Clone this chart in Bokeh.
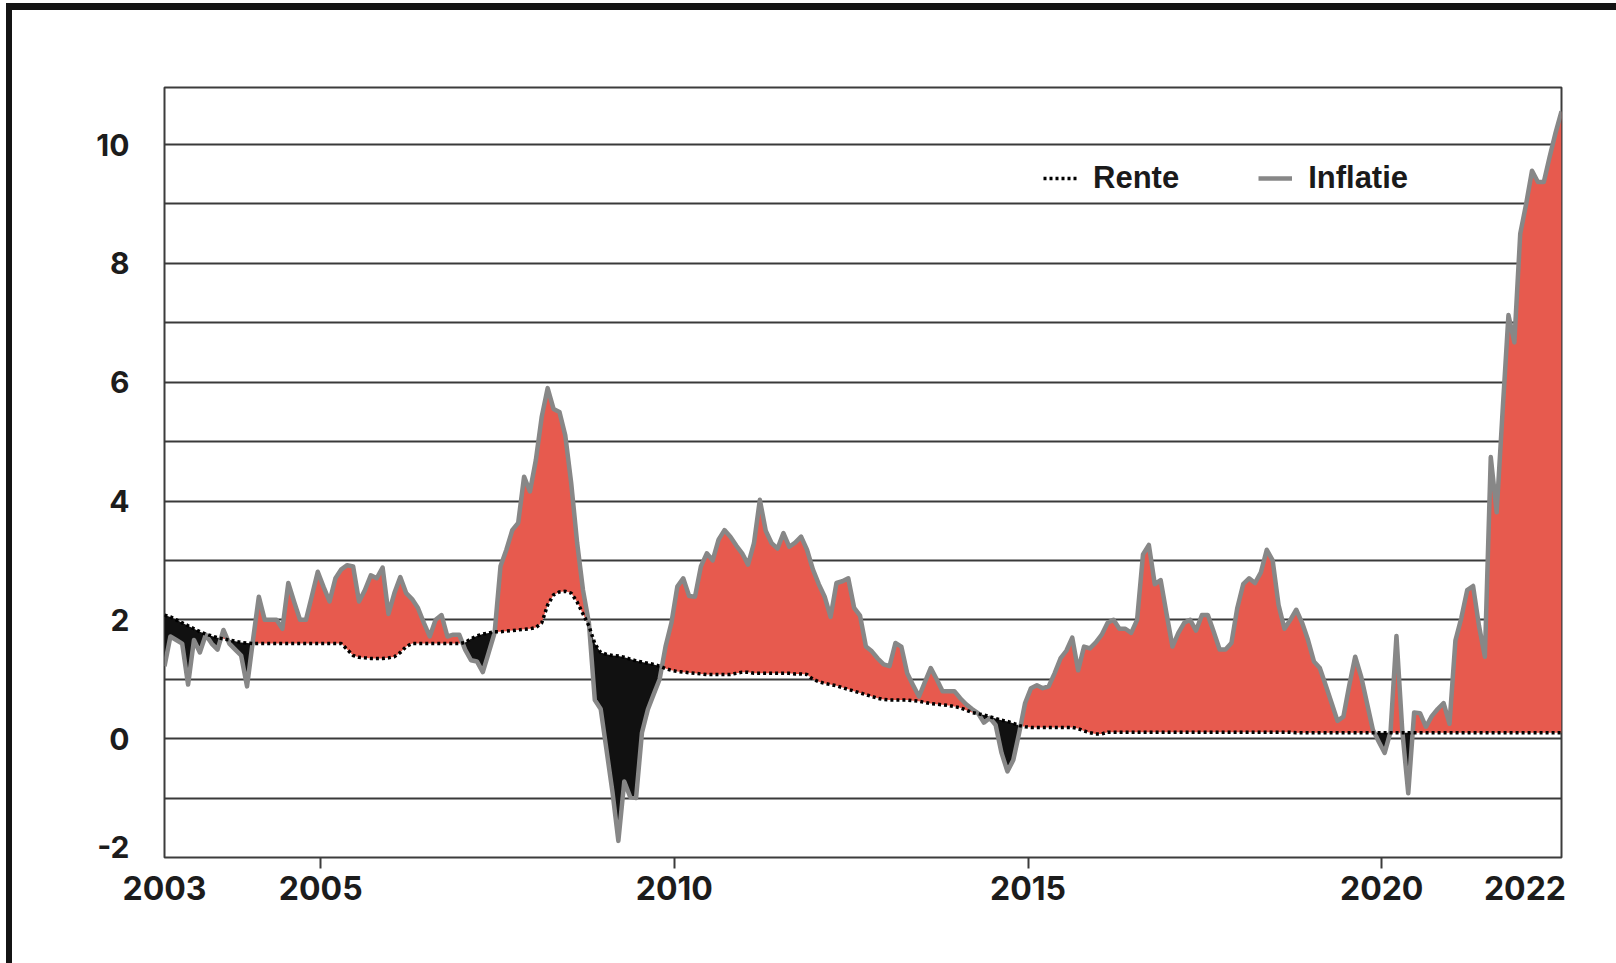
import numpy as np
from bokeh.plotting import figure
from bokeh.models import FixedTicker, Legend, LegendItem, Range1d
from bokeh.embed import file_html
from bokeh.resources import INLINE

# Monthly values, Jan 2003 .. Oct 2022 (month index 0..237)
inflatie = [
    1.22, 1.72, 1.66, 1.60, 0.91, 1.66, 1.45, 1.75, 1.60, 1.50,
    1.83, 1.60, 1.50, 1.40, 0.88, 1.65, 2.39, 2.00, 2.00, 2.00,
    1.85, 2.62, 2.30, 2.00, 2.00, 2.40, 2.81, 2.55, 2.31, 2.70,
    2.85, 2.92, 2.90, 2.31, 2.50, 2.75, 2.70, 2.88, 2.10, 2.45,
    2.72, 2.45, 2.35, 2.20, 1.95, 1.72, 2.00, 2.08, 1.72, 1.75,
    1.75, 1.50, 1.32, 1.30, 1.12, 1.45, 1.78, 2.90, 3.18, 3.51,
    3.63, 4.41, 4.16, 4.69, 5.42, 5.90, 5.55, 5.50, 5.10, 4.30,
    3.30, 2.50, 1.95, 0.65, 0.50, -0.20, -0.90, -1.72, -0.72, -0.98,
    -1.00, 0.10, 0.49, 0.75, 1.00, 1.55, 1.95, 2.56, 2.70, 2.40,
    2.39, 2.90, 3.12, 3.00, 3.35, 3.51, 3.40, 3.25, 3.12, 2.93,
    3.29, 4.02, 3.50, 3.29, 3.20, 3.46, 3.23, 3.30, 3.40, 3.18,
    2.85, 2.60, 2.39, 2.05, 2.62, 2.65, 2.70, 2.20, 2.07, 1.55,
    1.47, 1.35, 1.25, 1.22, 1.61, 1.55, 1.10, 0.90, 0.71, 0.95,
    1.19, 1.00, 0.80, 0.80, 0.80, 0.68, 0.58, 0.50, 0.43, 0.27,
    0.35, 0.23, -0.24, -0.55, -0.36, 0.10, 0.60, 0.85, 0.90, 0.85,
    0.88, 1.10, 1.35, 1.48, 1.70, 1.15, 1.55, 1.52, 1.62, 1.75,
    1.95, 2.00, 1.85, 1.85, 1.78, 2.00, 3.10, 3.26, 2.60, 2.67,
    2.10, 1.55, 1.78, 1.95, 2.00, 1.82, 2.08, 2.08, 1.80, 1.50,
    1.50, 1.61, 2.20, 2.60, 2.70, 2.62, 2.80, 3.18, 3.00, 2.25,
    1.85, 2.00, 2.17, 1.95, 1.66, 1.30, 1.19, 0.90, 0.60, 0.30,
    0.37, 0.90, 1.38, 1.05, 0.60, 0.15, -0.05, -0.24, 0.12, 1.73,
    0.12, -0.92, 0.44, 0.43, 0.20, 0.38, 0.50, 0.60, 0.25, 1.65,
    2.03, 2.50, 2.57, 1.90, 1.38, 4.74, 3.81, 5.50, 7.13, 6.67,
    8.50, 9.00, 9.56, 9.37, 9.37, 9.80, 10.20, 10.56,
]

rente = [
    2.08, 2.05, 2.00, 1.95, 1.90, 1.85, 1.80, 1.76, 1.73, 1.70,
    1.68, 1.66, 1.64, 1.62, 1.61, 1.60, 1.60, 1.60, 1.60, 1.60,
    1.60, 1.60, 1.60, 1.60, 1.60, 1.60, 1.60, 1.60, 1.60, 1.60,
    1.60, 1.50, 1.40, 1.37, 1.36, 1.35, 1.35, 1.35, 1.36, 1.38,
    1.45, 1.55, 1.60, 1.60, 1.60, 1.60, 1.60, 1.60, 1.60, 1.60,
    1.60, 1.62, 1.68, 1.73, 1.76, 1.78, 1.80, 1.80, 1.81, 1.82,
    1.83, 1.84, 1.85, 1.87, 1.95, 2.25, 2.42, 2.47, 2.48, 2.45,
    2.30, 2.10, 1.90, 1.60, 1.45, 1.42, 1.40, 1.39, 1.37, 1.34,
    1.31, 1.29, 1.27, 1.25, 1.22, 1.18, 1.15, 1.13, 1.12, 1.11,
    1.10, 1.09, 1.08, 1.08, 1.08, 1.08, 1.08, 1.10, 1.12, 1.12,
    1.10, 1.10, 1.10, 1.10, 1.10, 1.10, 1.10, 1.09, 1.09, 1.08,
    1.00, 0.96, 0.93, 0.91, 0.89, 0.86, 0.83, 0.80, 0.77, 0.74,
    0.71, 0.68, 0.66, 0.65, 0.65, 0.65, 0.65, 0.64, 0.63, 0.61,
    0.59, 0.58, 0.57, 0.56, 0.54, 0.52, 0.48, 0.44, 0.42, 0.40,
    0.37, 0.34, 0.31, 0.29, 0.26, 0.22, 0.20, 0.19, 0.19, 0.19,
    0.19, 0.19, 0.19, 0.19, 0.19, 0.17, 0.13, 0.10, 0.08, 0.08,
    0.11, 0.11, 0.11, 0.11, 0.11, 0.11, 0.11, 0.11, 0.11, 0.11,
    0.11, 0.11, 0.11, 0.11, 0.11, 0.11, 0.11, 0.11, 0.11, 0.11,
    0.11, 0.11, 0.11, 0.11, 0.11, 0.11, 0.11, 0.11, 0.11, 0.11,
    0.11, 0.11, 0.10, 0.10, 0.10, 0.10, 0.10, 0.10, 0.10, 0.10,
    0.10, 0.10, 0.10, 0.10, 0.10, 0.10, 0.10, 0.10, 0.10, 0.10,
    0.10, 0.10, 0.10, 0.10, 0.10, 0.10, 0.10, 0.10, 0.10, 0.10,
    0.10, 0.10, 0.10, 0.10, 0.10, 0.10, 0.10, 0.10, 0.10, 0.10,
    0.10, 0.10, 0.10, 0.10, 0.10, 0.10, 0.10, 0.10,
]

tick_labels = ["2003", "2005", "2010", "2015", "2020", "2022"]
tick_months = [0, 26.5, 86.5, 146.5, 206.5, 230.8]
year_marks = [26.5, 86.5, 146.5, 206.5]
y_label_text = ["-2", "0", "2", "4", "6", "8", "10"]
y_label_pos = [-1.82, 0, 2, 4, 6, 8, 10]

RED = "#E75A4E"
BLACK = "#111111"
GREY = "#878787"
TICK_FONT = "Inter"

x = np.arange(len(inflatie), dtype=float)
inf = np.array(inflatie, dtype=float)
ren = np.array(rente, dtype=float)

# insert crossing points so the two fills meet exactly where the lines cross
xs, fi, fr = [x[0]], [inf[0]], [ren[0]]
for k in range(len(x) - 1):
    d0 = inf[k] - ren[k]
    d1 = inf[k + 1] - ren[k + 1]
    if d0 * d1 < 0:
        t = d0 / (d0 - d1)
        xc = x[k] + t * (x[k + 1] - x[k])
        yc = ren[k] + t * (ren[k + 1] - ren[k])
        xs.append(xc); fi.append(yc); fr.append(yc)
    xs.append(x[k + 1]); fi.append(inf[k + 1]); fr.append(ren[k + 1])
xs = np.array(xs); fi = np.array(fi); fr = np.array(fr)

p = figure(
    frame_width=1397, frame_height=770,
    x_range=Range1d(0, len(inflatie) - 1), y_range=Range1d(-2, 10.96),
    output_backend="svg", toolbar_location=None,
    min_border_left=152, min_border_top=77, min_border_right=55, min_border_bottom=106,
    background_fill_color="white", border_fill_color="white",
)
p.styles = {"border-left": "6px solid #141414", "border-top": "7px solid #141414",
            "margin-left": "6px", "margin-top": "3px"}

p.varea(x=xs, y1=fr, y2=np.maximum(fi, fr), fill_color=RED)
p.varea(x=xs, y1=np.minimum(fi, fr), y2=fr, fill_color=BLACK)
infl_line = p.line(x, inf, line_color=GREY, line_width=4.5, line_join="round")
rente_line = p.line(x, ren, line_color="#000000", line_width=3.5, line_dash="3 3")

p.outline_line_color = "#3c3c3c"
p.outline_line_width = 2

p.xgrid.visible = False
p.ygrid.ticker = FixedTicker(ticks=list(range(-2, 11)))
p.ygrid.grid_line_color = "#3a3a3a"
p.ygrid.grid_line_width = 2

p.yaxis.ticker = FixedTicker(ticks=y_label_pos)
p.yaxis.major_label_overrides = {float(t): s for t, s in zip(y_label_pos, y_label_text)}
p.yaxis.axis_line_color = None
p.yaxis.major_tick_line_color = None
p.yaxis.minor_tick_line_color = None
p.yaxis.major_tick_out = 0
p.yaxis.major_tick_in = 0
p.yaxis.major_label_standoff = 35
p.yaxis.major_label_text_font = TICK_FONT
p.yaxis.major_label_text_font_size = "30px"
p.yaxis.major_label_text_font_style = "bold"
p.yaxis.major_label_text_color = "#1c1c1c"

p.xaxis.ticker = FixedTicker(ticks=tick_months, minor_ticks=year_marks)
p.xaxis.major_label_overrides = {float(t): s for t, s in zip(tick_months, tick_labels)}
p.xaxis.axis_line_color = None
p.xaxis.major_tick_line_color = None
p.xaxis.major_tick_out = 0
p.xaxis.major_tick_in = 0
p.xaxis.minor_tick_out = 11
p.xaxis.minor_tick_in = 0
p.xaxis.minor_tick_line_width = 2
p.xaxis.minor_tick_line_color = "#3c3c3c"
p.xaxis.major_label_standoff = 7
p.xaxis.major_label_text_font = TICK_FONT
p.xaxis.major_label_text_font_size = "32px"
p.xaxis.major_label_text_font_style = "bold"
p.xaxis.major_label_text_color = "#1c1c1c"

legend = Legend(
    items=[LegendItem(label="Rente", renderers=[rente_line]),
           LegendItem(label="Inflatie", renderers=[infl_line])],
    orientation="horizontal", location=(879, 661),
    padding=0, margin=0, spacing=79,
    glyph_width=34, glyph_height=36, label_height=36, label_standoff=16,
    label_text_font="Liberation Sans", label_text_font_size="31px",
    label_text_font_style="bold", label_text_color="#1a1a1a",
    background_fill_alpha=0, border_line_alpha=0,
)
p.add_layout(legend)

open("out.html", "w").write(file_html(p, INLINE))
